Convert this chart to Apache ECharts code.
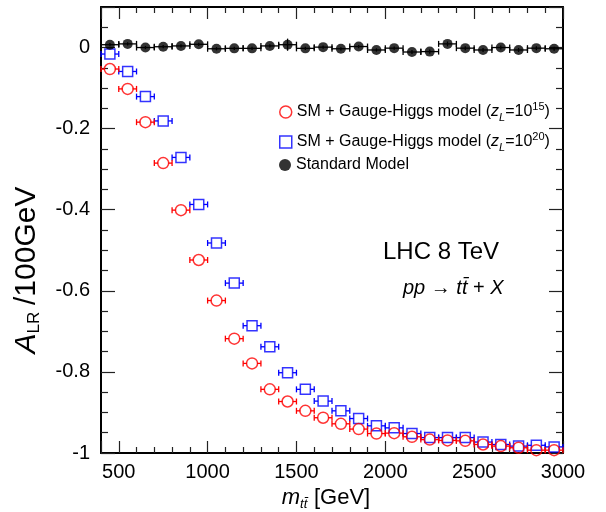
<!DOCTYPE html>
<html><head><meta charset="utf-8">
<script src="https://cdn.jsdelivr.net/npm/echarts@6/dist/echarts.min.js"></script>
<style>html,body{margin:0;padding:0;background:#fff}#c{width:606px;height:512px}</style>
</head><body><div id="c"></div>
<script>
// ---- data ----
const massBins = [450,550,650,750,850,950,1050,1150,1250,1350,1450,1550,1650,1750,1850,1950,2050,2150,2250,2350,2450,2550,2650,2750,2850,2950];
const binHalfWidth = 50;
const smValues = [0.007,0.009,0.000,0.002,0.004,0.008,-0.003,-0.002,-0.002,0.004,0.007,-0.002,0.001,-0.003,0.0025,-0.006,-0.0015,-0.011,-0.010,0.009,-0.0015,-0.006,0.000,-0.006,-0.0015,-0.003];
const smErrors = [0.004,0.004,0.004,0.004,0.004,0.004,0.004,0.004,0.004,0.004,0.015,0.004,0.004,0.004,0.004,0.004,0.004,0.005,0.005,0.006,0.005,0.005,0.005,0.005,0.005,0.005];
const gh15Values = [-0.053,-0.102,-0.184,-0.285,-0.401,-0.524,-0.624,-0.718,-0.779,-0.843,-0.873,-0.896,-0.913,-0.928,-0.941,-0.952,-0.951,-0.960,-0.967,-0.969,-0.970,-0.979,-0.983,-0.987,-0.993,-0.993];
const gh20Values = [-0.016,-0.059,-0.121,-0.181,-0.271,-0.387,-0.482,-0.581,-0.686,-0.738,-0.802,-0.843,-0.872,-0.896,-0.915,-0.933,-0.938,-0.952,-0.962,-0.962,-0.962,-0.973,-0.979,-0.983,-0.981,-0.985];

const NAME15 = 'SM + Gauge-Higgs model (zL=10^15)';
const NAME20 = 'SM + Gauge-Higgs model (zL=10^20)';
const NAMESM = 'Standard Model';
const FONT = "'Liberation Sans', Arial, Helvetica, sans-serif";

const chart = echarts.init(document.getElementById('c'), null, {renderer:'canvas'});

function pts(vals, errs){ return massBins.map((b,i)=>[b, vals[i], errs ? errs[i] : 0]); }

function errorBars(color, gapPx, capPx, lw){
  return function(params, api){
    const x = api.value(0), y = api.value(1), ey = api.value(2);
    const c = api.coord([x, y]);
    const l = api.coord([x - binHalfWidth, y]);
    const r = api.coord([x + binHalfWidth, y]);
    const style = {stroke: color, lineWidth: lw, fill: null};
    const kids = [];
    const seg = (x1,y1,x2,y2)=>kids.push({type:'line', shape:{x1,y1,x2,y2}, style});
    seg(l[0], c[1], c[0]-gapPx, c[1]);
    seg(c[0]+gapPx, c[1], r[0], c[1]);
    seg(l[0], c[1]-capPx, l[0], c[1]+capPx);
    seg(r[0], c[1]-capPx, r[0], c[1]+capPx);
    if (ey){
      const t = api.coord([x, y+ey]); const b = api.coord([x, y-ey]);
      if (c[1]-t[1] > gapPx){ seg(c[0], t[1], c[0], c[1]-gapPx); seg(c[0], c[1]+gapPx, c[0], b[1]); }
    }
    return {type:'group', children:kids};
  };
}

function axisLineCfg(){ return {show:true, onZero:false, lineStyle:{color:'#000', width:2}}; }
function tickCfg(len){ return {show:true, inside:true, length:len, lineStyle:{color:'#222', width:1.2}}; }
function minorCfg(n, len){ return {show:true, splitNumber:n, length:len, lineStyle:{color:'#222', width:1.2}}; }

const legendRich = {
  t:{fontSize:16, lineHeight:22, fontFamily:FONT, color:'#000'},
  i:{fontSize:16, lineHeight:22, fontFamily:FONT, fontStyle:'italic', color:'#000'},
  sub:{fontSize:11, lineHeight:9, fontFamily:FONT, fontStyle:'italic', verticalAlign:'bottom', color:'#000'},
  sup:{fontSize:11, lineHeight:9, fontFamily:FONT, verticalAlign:'top', color:'#000'}
};
function legendFmt(name){
  if (name === NAME15) return '{t|SM + Gauge-Higgs model (}{i|z}{sub|L}{t|=10}{sup|15}{t|)}';
  if (name === NAME20) return '{t|SM + Gauge-Higgs model (}{i|z}{sub|L}{t|=10}{sup|20}{t|)}';
  return '{t|' + name + '}';
}
function mkLegend(top, item){
  return {left:279, top:top, padding:0, itemWidth:12, itemHeight:12, selectedMode:false,
    formatter:legendFmt, textStyle:{rich:legendRich, fontSize:16, fontFamily:FONT, color:'#000'},
    data:[item]};
}

const option = {
  animation:false,
  backgroundColor:'#fff',
  grid:{left:101, right:43, top:7, bottom:59, outerBoundsMode:'none', containLabel:false},
  xAxis:[
    {type:'value', min:400, max:3000, splitNumber:5, position:'bottom',
     axisLine:axisLineCfg(), axisTick:tickCfg(12), minorTick:minorCfg(5, 6),
     splitLine:{show:false},
     axisLabel:{showMinLabel:false, fontSize:20, color:'#000', fontFamily:FONT, margin:9, formatter:v=>String(v)},
     name:'{i|m}{s|tt\u0304}  {n|[GeV]}', nameLocation:'middle', nameGap:31,
     nameTextStyle:{padding:[0,12,0,0], rich:{
       i:{fontSize:22, fontStyle:'italic', fontFamily:FONT, color:'#000', lineHeight:26},
       s:{fontSize:13, fontStyle:'italic', fontFamily:FONT, color:'#000', lineHeight:12, verticalAlign:'bottom'},
       n:{fontSize:22, fontFamily:FONT, color:'#000', lineHeight:26}}}
    },
    {type:'value', min:400, max:3000, splitNumber:5, position:'top',
     axisLine:axisLineCfg(), axisTick:tickCfg(12), minorTick:minorCfg(5, 6),
     splitLine:{show:false}, axisLabel:{show:false}}
  ],
  yAxis:[
    {type:'value', min:-1, max:0.1, interval:0.2, position:'left',
     axisLine:axisLineCfg(), axisTick:tickCfg(14), minorTick:minorCfg(4, 7),
     splitLine:{show:false},
     axisLabel:{showMaxLabel:false, fontSize:20, color:'#000', fontFamily:FONT, margin:11,
       formatter:v=>String(+v.toFixed(1))},
     name:'{i|A}{s|LR}  {n|/100GeV}', nameLocation:'middle', nameGap:58, nameRotate:90,
     nameTextStyle:{padding:[0,80,0,0], rich:{
       i:{fontSize:30, fontStyle:'italic', fontFamily:FONT, color:'#000', lineHeight:32},
       s:{fontSize:17, fontFamily:FONT, color:'#000', lineHeight:13, verticalAlign:'bottom'},
       n:{fontSize:30, fontFamily:FONT, color:'#000', lineHeight:32}}}
    },
    {type:'value', min:-1, max:0.1, interval:0.2, position:'right',
     axisLine:axisLineCfg(), axisTick:tickCfg(14), minorTick:minorCfg(4, 7),
     splitLine:{show:false}, axisLabel:{show:false}}
  ],
  legend:[
    mkLegend(101, {name:NAME15, icon:'circle', itemStyle:{color:'rgba(255,255,255,0)', borderColor:'#ff0000', borderWidth:1.5}}),
    mkLegend(131, {name:NAME20, icon:'rect', itemStyle:{color:'rgba(255,255,255,0)', borderColor:'#0000ff', borderWidth:1.5}}),
    mkLegend(157, {name:NAMESM, icon:'circle', itemStyle:{color:'#000', borderWidth:0}})
  ],
  graphic:[
    {type:'text', x:383, y:252, style:{text:'LHC 8 TeV', fontSize:24, fontFamily:FONT, fill:'#000', verticalAlign:'middle'}},
    {type:'text', x:403, y:288, style:{text:'{i|pp} {n|\u2192} {i|tt\u0304} {n|+} {i|X}', fontSize:20, fontFamily:FONT, fill:'#000', verticalAlign:'middle',
      rich:{i:{fontSize:20, fontStyle:'italic', fontFamily:FONT, fill:'#000'}, n:{fontSize:20, fontFamily:FONT, fill:'#000'}}}}
  ],
  series:[
    {name:'gh20 bars', type:'custom', xAxisIndex:0, yAxisIndex:0, data:pts(gh20Values), renderItem:errorBars('#0000ff',5,3,1.3), z:2, silent:true},
    {name:NAME20, type:'scatter', xAxisIndex:0, yAxisIndex:0, data:pts(gh20Values), symbol:'rect', symbolSize:10,
     itemStyle:{color:'rgba(255,255,255,0)', borderColor:'#0000ff', borderWidth:1.5}, z:3},
    {name:'gh15 bars', type:'custom', xAxisIndex:0, yAxisIndex:0, data:pts(gh15Values), renderItem:errorBars('#ff0000',5,3,1.3), z:4, silent:true},
    {name:NAME15, type:'scatter', xAxisIndex:0, yAxisIndex:0, data:pts(gh15Values), symbol:'circle', symbolSize:11,
     itemStyle:{color:'rgba(255,255,255,0)', borderColor:'#ff0000', borderWidth:1.5}, z:5},
    {name:'sm bars', type:'custom', xAxisIndex:0, yAxisIndex:0, data:pts(smValues, smErrors), renderItem:errorBars('#000',0,3,1.3), z:6, silent:true},
    {name:NAMESM, type:'scatter', xAxisIndex:0, yAxisIndex:0, data:pts(smValues, smErrors), symbol:'circle', symbolSize:10,
     itemStyle:{color:'#000'}, z:7}
  ]
};
chart.setOption(option);
</script></body></html>
